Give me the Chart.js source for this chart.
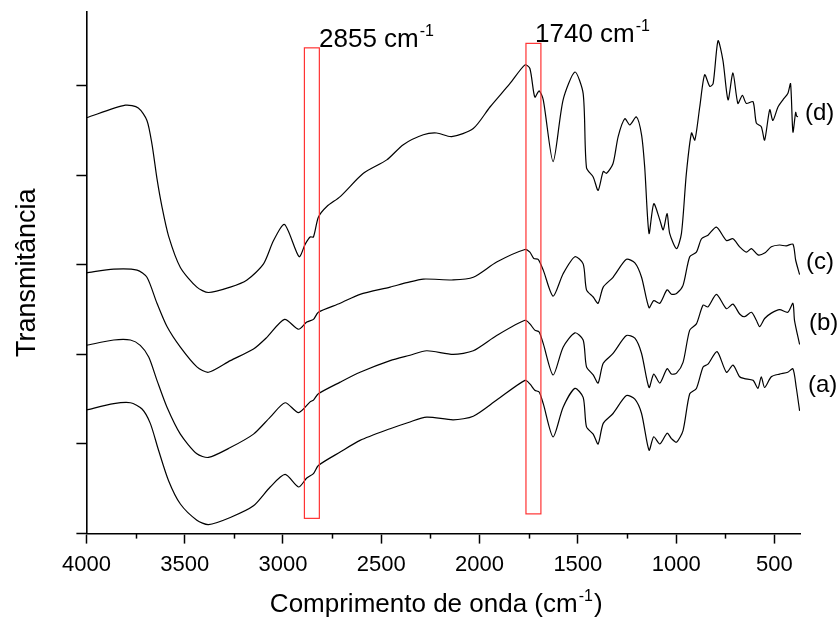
<!DOCTYPE html>
<html>
<head>
<meta charset="utf-8">
<script src="https://cdn.jsdelivr.net/npm/chart.js@4.4.1/dist/chart.umd.min.js"></script>
<style>
  body{margin:0;background:#fff;}
  canvas{display:block;}
</style>
</head>
<body>
<canvas id="grafico" width="840" height="618"></canvas>
<script>
// espectros FTIR (numero de onda em cm-1, transmitancia em u.a.)
const ondaA=[4000,3861,3776,3717,3675,3633,3582,3522,3438,3379,3268,3150,3065,2989,2921,2879,2845,2820,2709,2608,2455,2362,2269,2134,2032,1913,1769,1744,1719,1697,1676,1626,1575,1515,1473,1456,1422,1397,1371,1321,1253,1210,1176,1138,1114,1083,1046,1024,998,965,931,897,863,838,792,744,711,677,652,609,584,567,550,516,474,432,406,389,372];
const transA=[13.8,14.5,14.6,13.9,12.3,9.3,5.9,3.3,1.5,1.0,1.8,3.1,5.2,6.6,5.2,6.2,6.7,7.6,9.1,10.4,11.7,12.4,13.0,12.7,13.1,14.9,17.1,16.7,16.0,15.8,14.5,10.8,14.1,16.2,15.2,11.9,11.1,10.0,12.3,13.4,15.4,15.0,13.4,9.3,10.8,10.0,11.2,10.6,10.2,11.5,15.6,16.2,18.6,18.9,20.3,18.0,18.8,17.5,17.3,17.1,16.2,17.5,16.3,17.5,17.8,18.0,18.4,16.3,13.7];

const ondaB=[4000,3861,3776,3726,3683,3641,3590,3522,3438,3379,3268,3150,3065,2989,2921,2862,2845,2820,2709,2608,2455,2354,2269,2134,2032,1913,1769,1744,1719,1697,1676,1626,1575,1515,1473,1456,1422,1397,1371,1321,1253,1210,1176,1138,1114,1083,1046,1024,998,965,931,897,863,838,795,744,711,677,652,617,592,575,550,516,474,432,406,398,372];
const transB=[21.0,21.6,21.6,21.0,19.7,17.1,14.1,11.1,8.9,8.5,9.6,11.1,13.0,14.6,13.5,14.7,14.9,15.6,16.9,18.0,19.3,19.9,20.4,20.0,20.4,22.1,23.8,23.4,22.7,22.5,21.2,17.7,20.8,22.4,21.6,18.6,17.7,16.8,19.0,20.1,22.1,21.8,20.1,16.3,17.8,16.8,18.4,17.8,17.9,19.1,22.7,23.4,25.5,25.3,26.7,25.1,25.6,24.5,24.2,24.7,23.8,23.1,24.0,24.6,25.0,24.7,25.7,23.8,21.1];

const ondaC=[4000,3861,3742,3692,3641,3590,3522,3438,3379,3268,3150,3082,2992,2921,2879,2845,2820,2709,2608,2455,2370,2286,2134,2032,1913,1769,1744,1724,1702,1676,1626,1575,1515,1473,1456,1422,1397,1371,1321,1253,1210,1176,1138,1114,1083,1046,1024,998,965,931,897,871,838,795,744,711,677,643,617,584,550,516,474,440,406,392,372];
const transC=[29.1,29.5,29.4,28.6,25.7,23.1,20.8,18.6,18.0,19.3,20.6,21.9,23.9,22.8,23.6,23.9,24.7,25.7,26.7,27.5,28.0,28.4,28.3,28.6,30.3,31.7,31.4,30.7,30.6,29.4,26.5,29.0,30.9,30.1,27.2,26.4,25.7,27.5,28.6,30.6,30.2,28.6,25.2,26.0,25.7,27.2,26.7,26.8,27.7,30.9,31.4,32.9,33.3,34.2,32.7,32.9,32.0,31.4,31.8,31.1,31.3,32.0,32.2,32.1,32.3,30.5,28.9];

const ondaD=[4000,3802,3736,3692,3666,3641,3615,3582,3522,3438,3379,3268,3183,3099,3048,2992,2918,2887,2862,2845,2820,2777,2709,2591,2472,2388,2286,2218,2142,2032,1947,1846,1769,1744,1719,1697,1676,1626,1575,1515,1473,1456,1422,1397,1371,1354,1321,1295,1261,1236,1202,1176,1160,1138,1114,1083,1066,1046,1033,998,973,948,922,905,880,855,829,812,787,762,736,711,686,663,643,609,592,567,550,524,508,482,457,432,418,406,392,387,381];
const transD=[46.4,47.8,47.5,46.1,43.4,39.6,36.4,33.2,29.7,27.5,26.9,27.5,28.3,30.1,32.7,34.5,30.9,32.3,33.1,33.1,35.3,36.5,37.6,40.2,41.7,43.4,44.5,44.7,44.3,45.2,47.6,50.2,52.3,51.9,48.7,49.4,48.4,41.5,48.4,51.5,49.1,40.8,39.8,38.3,40.4,40.2,41.3,44.3,46.3,45.6,46.5,44.5,40.9,33.5,36.8,35.0,33.9,35.7,33.5,31.8,33.5,40.2,44.7,43.9,47.6,51.2,49.9,50.2,55.0,52.8,48.4,51.4,48.0,48.9,48.0,48.2,45.8,45.4,43.9,47.3,46.1,47.6,48.4,49.1,50.2,44.8,47.0,46.6,46.5];

const rotulosCurvas=['(a)','(b)','(c)','(d)'];
const marcasX=[4000,3500,3000,2500,2000,1500,1000,500];
const marcasMenores=[3750,3250,2750,2250,1750,1250,750];
const marcasY=[0,10,20,30,40,50];
// faixas destacadas: [onda inicial, onda final, transm. inferior, transm. superior]
const faixas=[[2891,2815,1.7,54.2],[1764,1688,2.2,54.7]];
const rotulosFaixas=['2855 cm','1740 cm'];

const fonte="'Liberation Sans', Arial, sans-serif";

const juntar=(ondas,valores)=>ondas.map((o,i)=>({x:o,y:valores[i]}));

const escreveExpoente=(ctx,base,expo,resto,x0,yBase,tam,tamExp)=>{
    ctx.textAlign='left';
    ctx.textBaseline='alphabetic';
    let x=x0;
    ctx.font=tam+'px '+fonte;
    ctx.fillText(base,x,yBase);
    x+=ctx.measureText(base).width+1;
    ctx.font=tamExp+'px '+fonte;
    ctx.fillText(expo,x,yBase-tam*0.42);
    x+=ctx.measureText(expo).width+1;
    if(resto){
        ctx.font=tam+'px '+fonte;
        ctx.fillText(resto,x,yBase);
        x+=ctx.measureText(resto).width;
    }
    return x-x0;
}

const extras={
    id:'extras',
    afterDraw(chart){
        const {ctx,chartArea,scales}=chart;
        const sx=scales.x, sy=scales.y;
        ctx.save();

        // marcas menores do eixo x
        ctx.strokeStyle='#000';
        ctx.lineWidth=1.5;
        marcasMenores.forEach(v=>{
            const px=Math.round(sx.getPixelForValue(v))+0.5;
            ctx.beginPath();
            ctx.moveTo(px,chartArea.bottom);
            ctx.lineTo(px,chartArea.bottom+5);
            ctx.stroke();
        });

        // retangulos vermelhos
        ctx.strokeStyle='#ff3333';
        ctx.lineWidth=1.2;
        faixas.forEach(f=>{
            const x1=sx.getPixelForValue(f[0]), x2=sx.getPixelForValue(f[1]);
            const y1=sy.getPixelForValue(f[3]), y2=sy.getPixelForValue(f[2]);
            ctx.strokeRect(x1,y1,x2-x1,y2-y1);
        });

        ctx.fillStyle='#000';
        escreveExpoente(ctx,rotulosFaixas[0],'-1','',319,47,26,16);
        escreveExpoente(ctx,rotulosFaixas[1],'-1','',535,42,26,16);

        // nomes das curvas
        ctx.font='24px '+fonte;
        ctx.textAlign='left';
        ctx.textBaseline='middle';
        const posX=[808,809,806,805];
        const posY=[385,323,262,113];
        rotulosCurvas.forEach((r,i)=>ctx.fillText(r,posX[i],posY[i]));

        // titulo do eixo x com expoente
        ctx.globalAlpha=0;
        const larg=escreveExpoente(ctx,'Comprimento de onda (cm','-1',')',0,-100,26,16);
        ctx.globalAlpha=1;
        const centro=(chartArea.left+chartArea.right)/2-7;
        escreveExpoente(ctx,'Comprimento de onda (cm','-1',')',centro-larg/2,612,26,16);

        ctx.restore();
    }
};

const estilo={borderColor:'#000',borderWidth:1.2,pointRadius:0,tension:0.25,fill:false};

const grafico=new Chart(document.getElementById('grafico'),{
    type:'line',
    data:{
        datasets:[
            {label:rotulosCurvas[0],data:juntar(ondaA,transA),...estilo},
            {label:rotulosCurvas[1],data:juntar(ondaB,transB),...estilo},
            {label:rotulosCurvas[2],data:juntar(ondaC,transC),...estilo},
            {label:rotulosCurvas[3],data:juntar(ondaD,transD),...estilo}
        ]
    },
    options:{
        responsive:false,
        animation:false,
        devicePixelRatio:1,
        layout:{padding:{left:0,right:40,top:12,bottom:32}},
        plugins:{legend:{display:false},tooltip:{enabled:false}},
        scales:{
            x:{
                type:'linear',
                reverse:true,
                min:370,
                max:4000,
                afterBuildTicks:s=>{s.ticks=marcasX.map(v=>({value:v}));},
                ticks:{color:'#000',font:{family:fonte,size:22},padding:8,maxRotation:0,autoSkip:false,callback:v=>String(v)},
                grid:{drawOnChartArea:false,tickLength:10,tickWidth:1.5,tickColor:'#000'},
                border:{color:'#000',width:1.6}
            },
            y:{
                min:0,
                max:58.2,
                afterBuildTicks:s=>{s.ticks=marcasY.map(v=>({value:v}));},
                ticks:{display:false},
                grid:{drawOnChartArea:false,tickLength:10,tickWidth:1.5,tickColor:'#000'},
                border:{color:'#000',width:1.6},
                title:{display:true,text:'Transmitância',color:'#000',font:{family:fonte,size:27},padding:{top:11,bottom:33}}
            }
        }
    },
    plugins:[extras]
});
</script>
</body>
</html>
